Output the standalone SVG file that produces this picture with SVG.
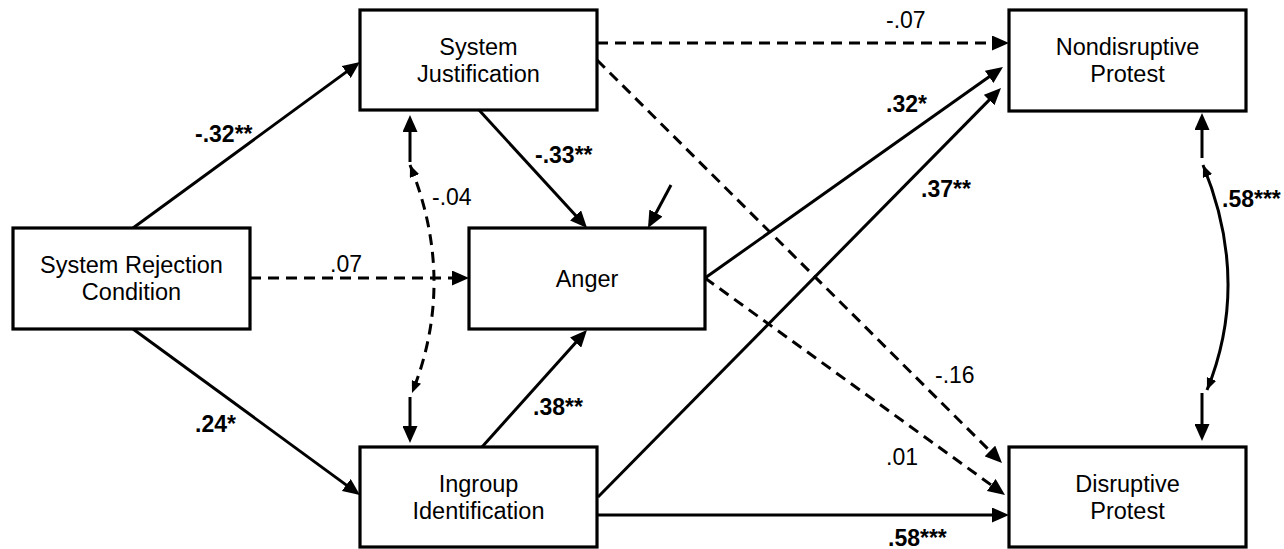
<svg xmlns="http://www.w3.org/2000/svg" width="1284" height="549" viewBox="0 0 1284 549">
<style>
.box{fill:#fff;stroke:#000;stroke-width:3.2}
.nt{font-family:"Liberation Sans",Arial,sans-serif;font-size:23.5px;fill:#000;text-anchor:middle}
.lb{font-family:"Liberation Sans",Arial,sans-serif;font-size:23px;fill:#000}
.b{font-weight:bold}
.c{fill:none;stroke:#000;stroke-width:3}
.d{stroke-dasharray:11 7}
.a{marker-end:url(#ah)}
.s{marker-start:url(#sh);marker-end:url(#sh)}
</style>
<defs>
<marker id="ah" markerUnits="userSpaceOnUse" markerWidth="17" markerHeight="15" refX="7" refY="7.5" orient="auto"><path d="M0,0 L17,7.5 L0,15 z" fill="#000"/></marker>
<marker id="sh" markerUnits="userSpaceOnUse" markerWidth="12" markerHeight="10" refX="12" refY="5" orient="auto-start-reverse"><path d="M0,0 L12,5 L0,10 z" fill="#000"/></marker>
</defs>
<rect width="1284" height="549" fill="#fff"/>
<g id="connectors">
<line class="c a" x1="133" y1="228" x2="351.9" y2="67.9"/>
<line class="c a" x1="133" y1="329" x2="351.9" y2="489.1"/>
<line class="c d a" x1="250" y1="278" x2="459" y2="278"/>
<line class="c a" x1="479" y1="110" x2="580.3" y2="220.6"/>
<line class="c a" x1="671" y1="185" x2="652.7" y2="219.2"/>
<line class="c a" x1="482" y1="447" x2="580.3" y2="337.4"/>
<line class="c d a" x1="597" y1="43" x2="999" y2="43"/>
<line class="c d a" x1="597" y1="60" x2="994.9" y2="455.9"/>
<line class="c a" x1="705" y1="278" x2="994.8" y2="72.8"/>
<line class="c d a" x1="705" y1="278" x2="996.9" y2="489.1"/>
<line class="c a" x1="598" y1="497" x2="994" y2="95.1"/>
<line class="c a" x1="598" y1="515" x2="999" y2="515"/>
<line class="c a" x1="410" y1="162" x2="410" y2="125"/>
<line class="c a" x1="410" y1="397" x2="410" y2="433"/>
<path class="c d s" d="M410,165 Q457,281 412,393"/>
<line class="c a" x1="1202" y1="158" x2="1202" y2="123"/>
<line class="c a" x1="1202" y1="393" x2="1202" y2="431"/>
<path class="c s" d="M1203,165 Q1251,282 1207,390"/>
<text class="lb b" x="195" y="142">-.32**</text>
<text class="lb b" x="195" y="432">.24*</text>
<text class="lb" x="330" y="272">.07</text>
<text class="lb" x="432" y="205">-.04</text>
<text class="lb b" x="535" y="163">-.33**</text>
<text class="lb b" x="533" y="415">.38**</text>
<text class="lb" x="886" y="28">-.07</text>
<text class="lb b" x="886" y="112">.32*</text>
<text class="lb b" x="921" y="197">.37**</text>
<text class="lb" x="935" y="383">-.16</text>
<text class="lb" x="886" y="465">.01</text>
<text class="lb b" x="888" y="546">.58***</text>
<text class="lb b" x="1222" y="207">.58***</text>
</g>
<g id="src"><rect class="box" x="13" y="228" width="237" height="101"/><text class="nt" x="131.5" y="273">System Rejection</text><text class="nt" x="131.5" y="300">Condition</text></g>
<g id="sj"><rect class="box" x="360" y="10" width="237" height="100"/><text class="nt" x="478.5" y="55">System</text><text class="nt" x="478.5" y="82">Justification</text></g>
<g id="anger"><rect class="box" x="469" y="228" width="236" height="101"/><text class="nt" x="587" y="287">Anger</text></g>
<g id="ii"><rect class="box" x="360" y="447" width="237" height="100"/><text class="nt" x="478.5" y="492">Ingroup</text><text class="nt" x="478.5" y="519">Identification</text></g>
<g id="np"><rect class="box" x="1009" y="10" width="237" height="101"/><text class="nt" x="1127.5" y="55">Nondisruptive</text><text class="nt" x="1127.5" y="82">Protest</text></g>
<g id="dp"><rect class="box" x="1009" y="447" width="237" height="100"/><text class="nt" x="1127.5" y="492">Disruptive</text><text class="nt" x="1127.5" y="519">Protest</text></g>
</svg>
